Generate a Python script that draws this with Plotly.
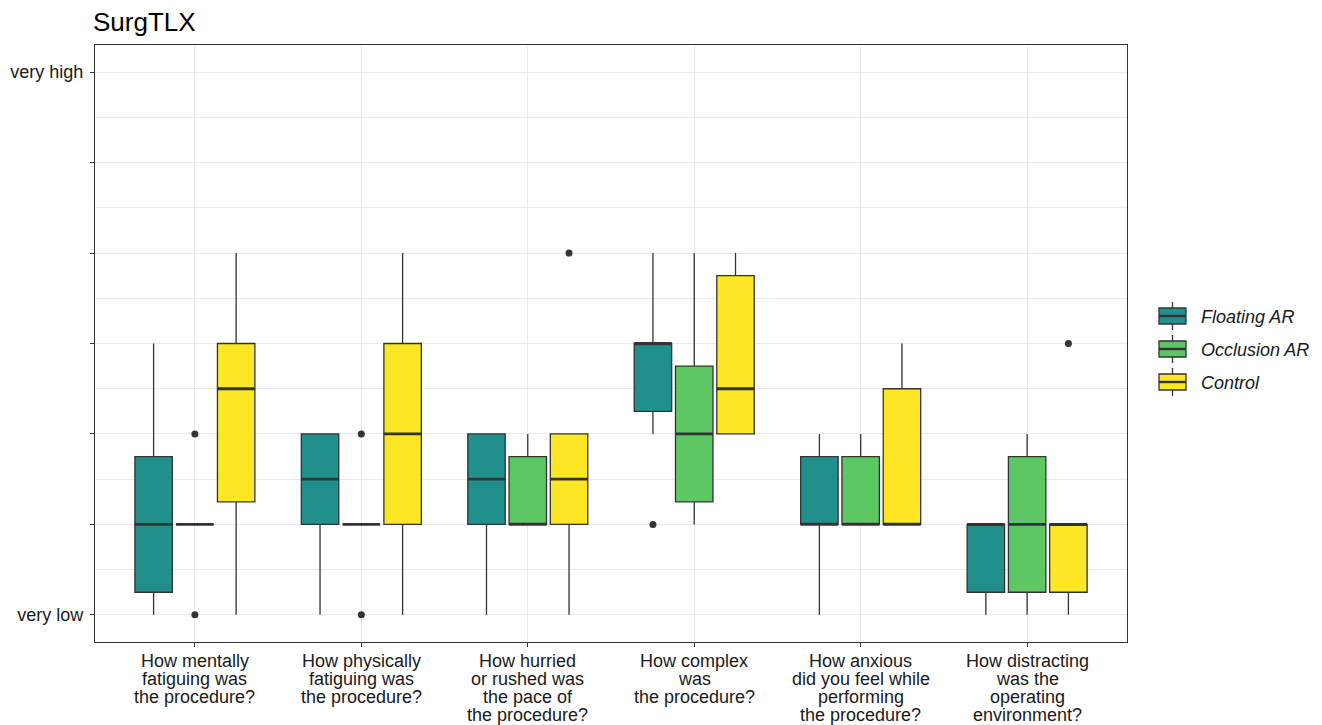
import plotly.graph_objects as go

# ---------------- data ----------------
categories = [
    "How mentally\nfatiguing was\nthe procedure?",
    "How physically\nfatiguing was\nthe procedure?",
    "How hurried\nor rushed was\nthe pace of\nthe procedure?",
    "How complex\nwas\nthe procedure?",
    "How anxious\ndid you feel while\nperforming\nthe procedure?",
    "How distracting\nwas the\noperating\nenvironment?",
]
series_names = ["Floating AR", "Occlusion AR", "Control"]
series_colors = ["#21908C", "#5DC863", "#FDE725"]

floating_lower = [1, 1, 1, 3, 1, 1]
floating_q1 = [1.25, 2, 2, 3.25, 2, 1.25]
floating_median = [2, 2.5, 2.5, 4, 2, 2]
floating_q3 = [2.75, 3, 3, 4, 2.75, 2]
floating_upper = [4, 3, 3, 5, 3, 2]
floating_outlier_cat = [3]
floating_outlier_val = [2]

occlusion_lower = [2, 2, 2, 2, 2, 1]
occlusion_q1 = [2, 2, 2, 2.25, 2, 1.25]
occlusion_median = [2, 2, 2, 3, 2, 2]
occlusion_q3 = [2, 2, 2.75, 3.75, 2.75, 2.75]
occlusion_upper = [2, 2, 3, 5, 3, 3]
occlusion_outlier_cat = [0, 0, 1, 1]
occlusion_outlier_val = [1, 3, 1, 3]

control_lower = [1, 1, 1, 3, 2, 1]
control_q1 = [2.25, 2, 2, 3, 2, 1.25]
control_median = [3.5, 3, 2.5, 3.5, 2, 2]
control_q3 = [4, 4, 3, 4.75, 3.5, 2]
control_upper = [5, 5, 3, 5, 4, 2]
control_outlier_cat = [2, 5]
control_outlier_val = [5, 4]

y_tick_values = [1, 2, 3, 4, 5, 6, 7]
y_tick_labels = ["very low", "", "", "", "", "", "very high"]
title_text = "SurgTLX"

# ---------------- layout helpers ----------------
stats = [
    (floating_lower, floating_q1, floating_median, floating_q3, floating_upper,
     floating_outlier_cat, floating_outlier_val),
    (occlusion_lower, occlusion_q1, occlusion_median, occlusion_q3, occlusion_upper,
     occlusion_outlier_cat, occlusion_outlier_val),
    (control_lower, control_q1, control_median, control_q3, control_upper,
     control_outlier_cat, control_outlier_val),
]
dodge = 0.248
box_w = 0.225
dark = "#333333"
txt = "#1a1a1a"
FONT = "Liberation Sans, Arial, Helvetica, sans-serif"

# figure geometry (page has an 8px body margin)
PAGE_OFF = 8
W, H = 1322 - PAGE_OFF, 725 - PAGE_OFF
P_L, P_R, P_T, P_B = 95, 1127, 45, 642  # panel edges in window pixels
PW, PH = P_R - P_L, P_B - P_T


def px_to_paper_x(X):
    return (X - P_L) / PW


def px_to_paper_y(Y):
    return (P_B - Y) / PH


fig = go.Figure()

for s, (name, col) in enumerate(zip(series_names, series_colors)):
    lo, q1, med, q3, hi, oc, ov = stats[s]
    off = (s - 1) * dodge
    xs = [i + off for i in range(len(categories))]
    fig.add_trace(go.Box(
        name=name, x=xs, q1=q1, median=med, q3=q3,
        lowerfence=lo, upperfence=hi, width=box_w,
        fillcolor=col, line=dict(color=dark, width=1.3),
        whiskerwidth=0, boxpoints=False, showlegend=False,
        hoverinfo="skip",
    ))
    # thick median lines (ggplot style)
    mx, my = [], []
    for x, m in zip(xs, med):
        mx += [x - box_w / 2, x + box_w / 2, None]
        my += [m, m, None]
    fig.add_trace(go.Scatter(
        x=mx, y=my, mode="lines", line=dict(color=dark, width=2.8),
        showlegend=False, hoverinfo="skip",
    ))
    # outliers
    fig.add_trace(go.Scatter(
        x=[c + off for c in oc], y=ov, mode="markers",
        marker=dict(color=dark, size=7), showlegend=False,
        hoverinfo="skip",
    ))

# multi-line x labels with ggplot-like line spacing
for i, lab in enumerate(categories):
    for k, line in enumerate(lab.split("\n")):
        fig.add_annotation(
            x=i, xref="x", y=0, yref="paper", yanchor="middle",
            yshift=-(19 + 18 * k), text=line, showarrow=False,
            font=dict(family=FONT, size=18, color=txt),
        )

# ggplot-style legend keys (box with whiskers and median)
KEY_X0, KEY_X1 = 1159, 1186
KEY_C0, KEY_STEP = 316, 33
for s, (name, col) in enumerate(zip(series_names, series_colors)):
    c = KEY_C0 + s * KEY_STEP
    xm = (KEY_X0 + KEY_X1) / 2
    fig.add_shape(type="line", xref="paper", yref="paper",
                  x0=px_to_paper_x(xm), x1=px_to_paper_x(xm),
                  y0=px_to_paper_y(c - 14), y1=px_to_paper_y(c + 14),
                  line=dict(color=dark, width=1.3))
    fig.add_shape(type="rect", xref="paper", yref="paper",
                  x0=px_to_paper_x(KEY_X0), x1=px_to_paper_x(KEY_X1),
                  y0=px_to_paper_y(c - 8), y1=px_to_paper_y(c + 8),
                  fillcolor=col, line=dict(color=dark, width=1.3))
    fig.add_shape(type="line", xref="paper", yref="paper",
                  x0=px_to_paper_x(KEY_X0), x1=px_to_paper_x(KEY_X1),
                  y0=px_to_paper_y(c), y1=px_to_paper_y(c),
                  line=dict(color=dark, width=2.4))
    fig.add_annotation(xref="paper", yref="paper",
                       x=px_to_paper_x(1199), y=px_to_paper_y(c + 1),
                       xanchor="left", yanchor="middle", showarrow=False,
                       text=name,
                       font=dict(family=FONT, size=18, color=txt, style="italic"))

fig.update_layout(
    width=W, height=H,
    margin=dict(l=P_L - PAGE_OFF, r=W - (P_R - PAGE_OFF),
                t=P_T - PAGE_OFF, b=H - (P_B - PAGE_OFF)),
    paper_bgcolor="white", plot_bgcolor="white",
    boxmode="overlay",
    title=dict(text=title_text, x=(93 - PAGE_OFF) / W, xref="container", xanchor="left",
               y=1 - (22 - PAGE_OFF) / H, yref="container", yanchor="middle",
               font=dict(family=FONT, size=26, color="black")),
    font=dict(family=FONT, size=18, color=txt),
    showlegend=False,
)
fig.update_xaxes(
    range=[-0.6, len(categories) - 0.4], automargin=False,
    tickvals=list(range(len(categories))), showticklabels=False,
    ticks="outside", ticklen=4, tickcolor=dark, tickwidth=1.2,
    showgrid=True, gridcolor="#EBEBEB", gridwidth=1.4, zeroline=False,
    showline=True, mirror=True, linecolor=dark, linewidth=1.3,
)
fig.update_yaxes(
    range=[0.7, 7.3], tickvals=y_tick_values, ticktext=y_tick_labels,
    automargin=False,
    ticks="outside", ticklen=4, tickcolor=dark, tickwidth=1.2,
    ticklabelstandoff=3,
    tickfont=dict(family=FONT, size=18, color=txt),
    showgrid=True, gridcolor="#EBEBEB", gridwidth=1.4, zeroline=False,
    minor=dict(tick0=0.5, dtick=1, showgrid=True, gridcolor="#EBEBEB", gridwidth=1.2),
    showline=True, mirror=True, linecolor=dark, linewidth=1.3,
)

fig.write_html("out.html")
